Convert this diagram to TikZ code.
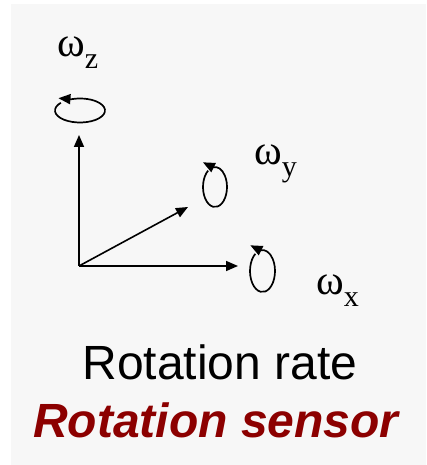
\documentclass[tikz,border=0pt]{standalone}
\usepackage{fontspec}
\setmainfont{Liberation Serif}
\newfontfamily\arialfont{Liberation Sans}
\usetikzlibrary{arrows.meta}
\definecolor{bggrey}{HTML}{F7F7F7}
\definecolor{sensorred}{RGB}{140,0,0}
\newcommand{\omsub}[1]{{\fontsize{42}{42}\selectfont ω}\raisebox{-12pt}{\fontsize{30}{30}\selectfont #1}}
\tikzset{
  axis/.style={line width=1.6pt, -{Triangle[length=12pt,width=10pt]}},
  spin/.style={line width=1.7pt, -{Triangle[length=12pt,width=10pt]}},
  omlabel/.style={anchor=base west, inner sep=0pt}
}

\begin{document}
\begin{tikzpicture}[x=1pt, y=1pt]
  \useasboundingbox (0,0) rectangle (426,465);
  \fill[bggrey] (11,0) rectangle (426,461);                   % panel
  % axes
  \coordinate (O) at (79,199);
  \coordinate (zend) at (79,330);
  \coordinate (yend) at (188,258);
  \coordinate (xend) at (238,199);
  \draw[axis] (O) -- (zend);
  \draw[axis] (O) -- (yend);
  \draw[axis] (O) -- (xend);
  % rotation loops
  \coordinate (zc) at (80,354.5);
  \coordinate (yc) at (215,278);
  \coordinate (xc) at (262.5,194);
  \draw[spin] (zc) ++(140:25 and 12) arc[start angle=140, end angle=470, x radius=25, y radius=12] -- ++(-13,1);
  \draw[spin] (yc) ++(125:12 and 20) arc[start angle=125, end angle=460, x radius=12, y radius=20] -- ++(-10,5);
  \draw[spin] (xc) ++(125:12.5 and 21) arc[start angle=125, end angle=460, x radius=12.5, y radius=21] -- ++(-10,5);
  % labels
  \node[omlabel] (wz) at (57,408) {\omsub{z}};
  \node[omlabel] (wy) at (254,300) {\omsub{y}};
  \node[omlabel] (wx) at (316,170) {\omsub{x}};
  \node[anchor=base, inner sep=0pt] (rate) at (220,85)
    {\arialfont\fontsize{48}{48}\selectfont Rotation rate};
  \node[anchor=base, inner sep=0pt, text=sensorred] (sensor) at (216,27)
    {\arialfont\bfseries\itshape\fontsize{48}{48}\selectfont Rotation sensor};
\end{tikzpicture}
\end{document}
